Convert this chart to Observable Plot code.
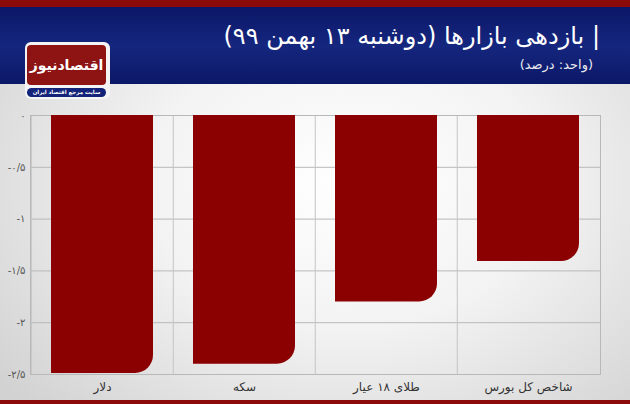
<!DOCTYPE html>
<html><head><meta charset="utf-8">
<script src="https://cdn.jsdelivr.net/npm/d3@7"></script>
<script src="https://cdn.jsdelivr.net/npm/@observablehq/plot@0.6"></script>
<style>
html,body{margin:0;padding:0;}
body{width:630px;height:404px;overflow:hidden;font-family:"DejaVu Sans",sans-serif;}
#page{position:relative;width:630px;height:404px;background:radial-gradient(ellipse 70% 80% at 55% 45%,#ffffff 0%,#f3f3f3 45%,#d2d2d2 100%);}
#topbar{position:absolute;left:0;top:0;width:630px;height:7px;background:#8c0a0a;}
#header{position:absolute;left:0;top:7px;width:630px;height:77px;background:linear-gradient(180deg,#0b1868 0%,#15267e 50%,#0b1868 100%);}
#botbar{position:absolute;left:0;top:400px;width:630px;height:4px;background:#8c0a0a;}
#title{position:absolute;right:30px;top:22px;direction:rtl;color:#fff;font-size:24px;white-space:nowrap;}
#subtitle{position:absolute;right:37px;top:57px;direction:rtl;color:#e8e8ee;font-size:13px;white-space:nowrap;}
#logo{position:absolute;left:25px;top:42px;width:85px;height:57px;background:#f4f4f4;border-radius:6px;}
#logored{position:absolute;left:2px;top:3px;width:79px;height:40px;background:#8e1414;border-radius:4px;color:#fff;font-weight:bold;font-size:14px;text-align:center;line-height:40px;direction:rtl;white-space:nowrap;overflow:hidden;letter-spacing:-0.5px;}
#logopill{position:absolute;left:2px;top:46px;width:79px;height:9px;background:#13237a;border-radius:5px;color:#fff;font-size:5.5px;text-align:center;line-height:9px;direction:rtl;font-weight:bold;white-space:nowrap;overflow:hidden;}
#chart{position:absolute;left:0;top:84px;}
</style></head>
<body><div id="page">
<div id="topbar"></div><div id="header"></div><div id="botbar"></div>
<div id="title">| بازدهی بازارها (دوشنبه ۱۳ بهمن ۹۹)</div>
<div id="subtitle">(واحد: درصد)</div>
<div id="logo"><div id="logored">اقتصادنیوز</div><div id="logopill">سایت مرجع اقتصاد ایران</div></div>
<div id="chart"></div>
</div>
<script>
const categories = ["دلار", "سکه", "طلای ۱۸ عیار", "شاخص کل بورس"];
const values = [-2.49, -2.4, -1.8, -1.41];
const yTicks = [0, -0.5, -1, -1.5, -2, -2.5];
const yTickLabels = ["۰", "-۰/۵", "-۱", "-۱/۵", "-۲", "-۲/۵"];

const data = categories.map((c, i) => ({category: c, value: values[i]}));
const W = 630, mL = 30, mR = 30;
const step = (W - mL - mR) / categories.length;
const R = 18;

function roundBottomRight(index, scales, vals, dims, ctx, next) {
  const g = next(index, scales, vals, dims, ctx);
  g.querySelectorAll("rect").forEach(r => {
    const x = +r.getAttribute("x"), y = +r.getAttribute("y");
    const w = +r.getAttribute("width"), h = +r.getAttribute("height");
    const rr = Math.min(R, w / 2, h / 2);
    const p = document.createElementNS("http://www.w3.org/2000/svg", "path");
    p.setAttribute("d", `M${x},${y}H${x + w}V${y + h - rr}A${rr},${rr} 0 0 1 ${x + w - rr},${y + h}H${x}Z`);
    for (const a of r.attributes) if (!["x", "y", "width", "height"].includes(a.name)) p.setAttribute(a.name, a.value);
    r.replaceWith(p);
  });
  return g;
}

const chart = Plot.plot({
  width: W,
  height: 316,
  marginTop: 31,
  marginBottom: 26,
  marginLeft: mL,
  marginRight: mR,
  style: {background: "transparent", fontFamily: "DejaVu Sans, sans-serif"},
  x: {domain: categories, padding: 0, label: null},
  y: {domain: [-2.5, 0], label: null},
  marks: [
    Plot.ruleY(yTicks, {stroke: "#b8b8b8", strokeWidth: 1}),
    Plot.ruleX(categories, {x: d => d, dx: -step / 2, stroke: "#c4c4c4", strokeWidth: 1}),
    Plot.frame({stroke: "#b8b8b8"}),
    Plot.barY(data, {x: "category", y: "value", fill: "#8b0000", insetLeft: 20, insetRight: 20, render: roundBottomRight}),
    Plot.axisY({ticks: yTicks, tickFormat: d => yTickLabels[yTicks.indexOf(d)], tickSize: 0, tickPadding: 5, fontSize: 10, color: "#555"}),
    Plot.axisX({tickSize: 0, tickPadding: 8, fontSize: 12, color: "#333", label: null})
  ]
});
document.getElementById("chart").appendChild(chart);
</script>
</body></html>
